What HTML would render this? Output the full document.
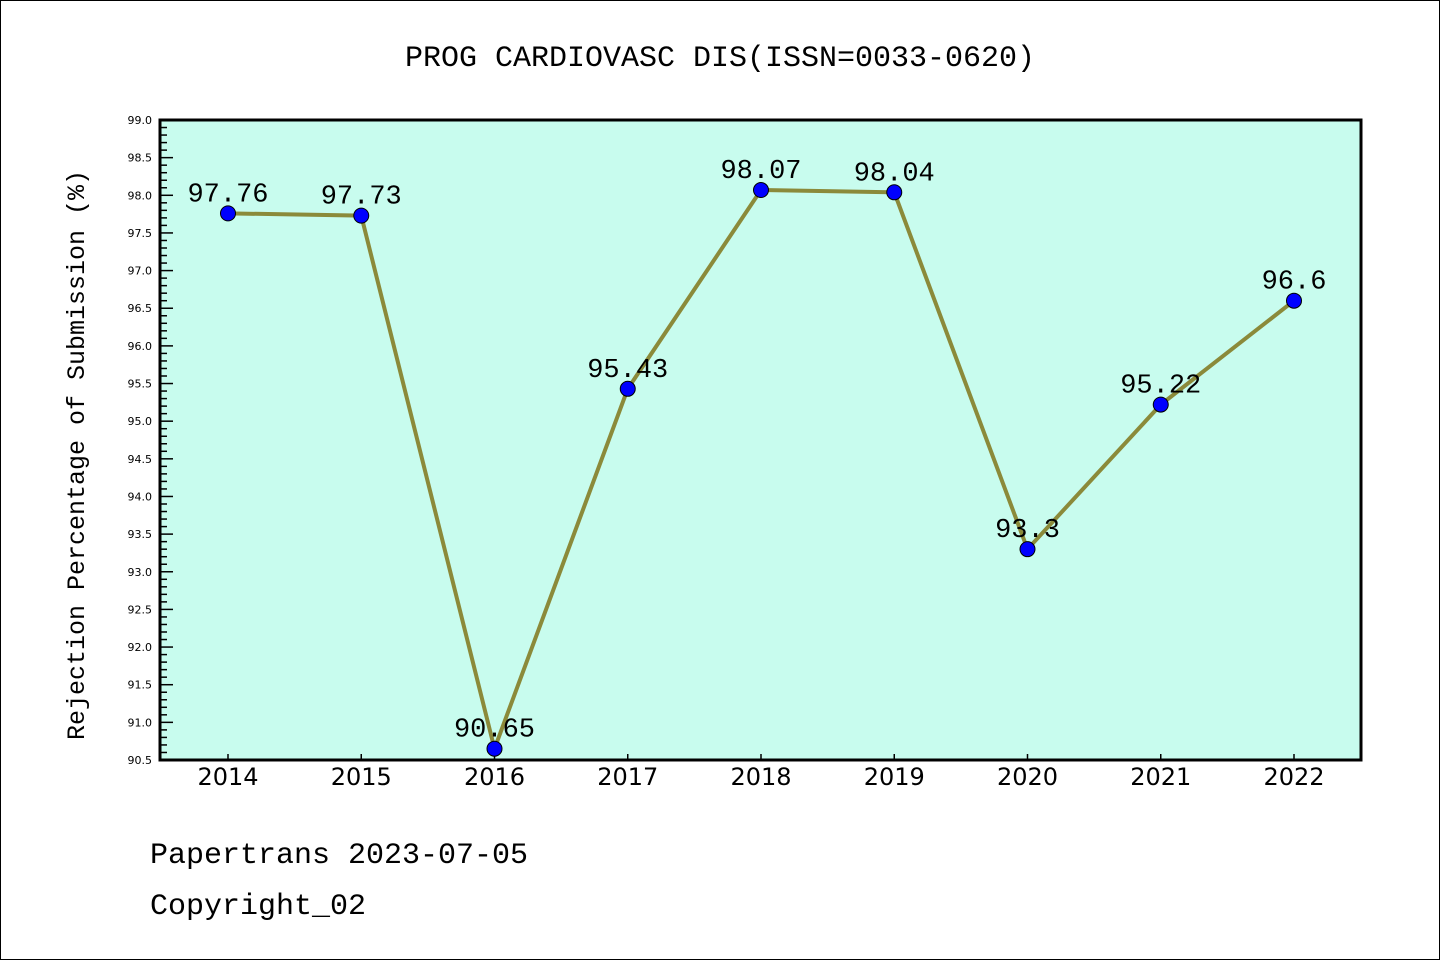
<!DOCTYPE html>
<html><head><meta charset="utf-8"><style>
body{margin:0;background:#fff;}
svg{display:block;font-family:"Liberation Mono","DejaVu Sans Mono",monospace;}
</style></head><body>
<svg id="chart" width="1440" height="960" viewBox="0 0 1440 960">
<rect x="0.5" y="0.5" width="1439" height="959" fill="#fff" stroke="#000"/>
<text x="720" y="66" text-anchor="middle" font-size="30">PROG CARDIOVASC DIS(ISSN=0033-0620)</text>
<rect x="160" y="120" width="1201" height="640" fill="#c8fcee"/>
<g id="yaxis"></g><g id="xaxis"></g>
<polyline id="line" fill="none" stroke="#8b8a3a" stroke-width="4"/>
<g id="labels"></g><g id="points"></g>
<rect x="160" y="120" width="1201" height="640" fill="none" stroke="#000" stroke-width="3"/>
<text transform="translate(84,455) rotate(-90)" text-anchor="middle" font-size="25">Rejection Percentage of Submission (%)</text>
<text x="150" y="863" font-size="30">Papertrans 2023-07-05</text>
<text x="150" y="914" font-size="30">Copyright_02</text>
</svg>
<script>
const years = ["2014","2015","2016","2017","2018","2019","2020","2021","2022"];
const values = [97.76,97.73,90.65,95.43,98.07,98.04,93.3,95.22,96.6];
const valueLabels = ["97.76","97.73","90.65","95.43","98.07","98.04","93.3","95.22","96.6"];
const yTicks = ["90.5","91.0","91.5","92.0","92.5","93.0","93.5","94.0","94.5","95.0","95.5","96.0","96.5","97.0","97.5","98.0","98.5","99.0"];
const yMin=90.5,yMax=99.0,plotTop=120,plotBot=760;
const ns="http://www.w3.org/2000/svg";
function yS(v){return plotBot-(v-yMin)/(yMax-yMin)*(plotBot-plotTop);}
function xS(i){return 228+i*(1294-228)/(years.length-1);}
function mk(t,a,p){const e=document.createElementNS(ns,t);for(const k in a)e.setAttribute(k,a[k]);p.appendChild(e);return e;}
const ya=document.getElementById('yaxis'),xa=document.getElementById('xaxis');
for(let k=0;k<=Math.round((yMax-yMin)*10);k++){const v=yMin+k/10,yy=yS(v),maj=k%5==0;
 const l=mk('line',{x1:160,x2:160+(maj?13:7),y1:yy,y2:yy,stroke:'#000','stroke-width':1.5},ya);
 
 }
yTicks.forEach(t=>{const e=mk('text',{x:152,y:yS(parseFloat(t))+4,'text-anchor':'end','font-size':11,'font-family':'DejaVu Sans, sans-serif'},ya);e.textContent=t;
 
 });
years.forEach((yr,i)=>{const l=mk('line',{x1:xS(i),x2:xS(i),y1:plotBot,y2:plotBot-6,stroke:'#000','stroke-width':1.5},xa);
 
 
 const t=mk('text',{x:xS(i),y:785,'text-anchor':'middle','font-size':24,'font-family':'DejaVu Sans, sans-serif'},xa);t.textContent=yr;
 
 });
document.getElementById('line').setAttribute('points',values.map((v,i)=>xS(i)+','+yS(v)).join(' '));
const lg=document.getElementById('labels'),pg=document.getElementById('points');
values.forEach((v,i)=>{const t=mk('text',{x:xS(i),y:yS(v)-12,'text-anchor':'middle','font-size':27},lg);t.textContent=valueLabels[i];
 
 
 const c=mk('circle',{cx:xS(i),cy:yS(v),r:7.5,fill:'#0000ff',stroke:'#000','stroke-width':1},pg);
 
 });
</script>
</body></html>
